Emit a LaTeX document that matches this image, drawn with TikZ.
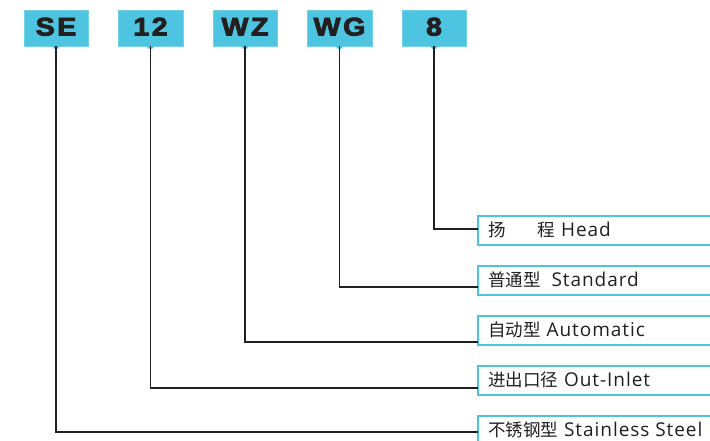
\documentclass[tikz,border=0pt]{standalone}
\usepackage{fontspec}
\newfontfamily\codefont[FakeBold=3.5,FakeStretch=1.12,LetterSpace=10]{Liberation Sans Bold}
\newfontfamily\cjk{Noto Sans CJK SC}
\newfontfamily\latn[LetterSpace=5]{Open Sans}
\definecolor{tagcyan}{RGB}{77,196,224}
\definecolor{linegray}{RGB}{35,31,32}
\tikzset{
  x=1pt,y=1pt,
  tag/.style={rectangle,fill=tagcyan,draw=tagcyan!80!white,line width=0.6pt,inner sep=0pt,
    minimum width=64pt,text height=25.5pt,text depth=10.5pt,
    font=\codefont\fontsize{25.5}{25.5}\selectfont,text=linegray},
  rbox/.style={rectangle,inner ysep=0pt,inner xsep=10pt,
    text height=20.5pt,text depth=8.5pt,anchor=north west,
    font=\cjk\fontsize{17.5}{17.5}\selectfont,text=linegray},
  boxline/.style={draw=tagcyan,line width=2pt},
  lead/.style={draw=linegray,line width=1.5pt}
}
\newcommand{\en}[1]{{\latn\fontsize{19}{19}\selectfont #1}}
\newcommand{\rtext}[1]{\makebox[212pt][l]{#1}}
\begin{document}
\begin{tikzpicture}
\useasboundingbox (0,0) rectangle (710,-441);
% top tags
\node[tag] (se) at (56,-28) {SE};
\node[tag,minimum width=65pt] (n12) at (150.5,-28) {12};
\node[tag] (wz) at (245,-28) {WZ};
\node[tag,minimum width=65pt] (wg) at (339.5,-28) {WG};
\node[tag] (n8) at (434,-28) {8};
\foreach \t in {se,n12,wz,wg,n8}{
  \fill[tagcyan] ([yshift=0.5pt]\t.south) circle (3.5pt);
}
% right boxes
\node[rbox] (r1) at (478,-216) {\rtext{扬\hspace{32pt}程\en{ Head}}};
\node[rbox] (r2) at (478,-266) {\rtext{普通型\hspace{5pt}\en{ Standard}}};
\node[rbox] (r3) at (478,-316) {\rtext{自动型\en{ Automatic}}};
\node[rbox] (r4) at (478,-366) {\rtext{进出口径\en{ Out-Inlet}}};
\node[rbox] (r5) at (478,-416) {\rtext{不锈钢型\en{ Stainless Steel}}};
\foreach \r in {r1,r2,r3,r4,r5}{
  \draw[boxline] (\r.north east) -- (\r.north west) -- (\r.south west) -- (\r.south east);
}
% leaders
\draw[lead] (n8.south) |- ([yshift=-13pt]r1.north west);
\draw[lead] (wg.south) |- ([yshift=-21pt]r2.north west);
\draw[lead] (wz.south) |- ([yshift=-26pt]r3.north west);
\draw[lead] (n12.south) |- ([yshift=-22pt]r4.north west);
\draw[lead] (se.south) |- ([yshift=-16pt]r5.north west);
\end{tikzpicture}
\end{document}
